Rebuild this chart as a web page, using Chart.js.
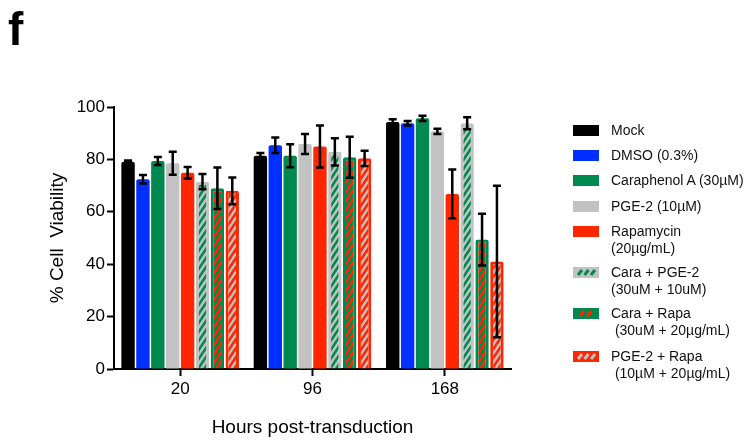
<!DOCTYPE html>
<html>
<head>
<meta charset="utf-8">
<script src="https://cdn.jsdelivr.net/npm/chart.js@4.4.0/dist/chart.umd.min.js"></script>
<style>
  body { margin: 0; background: #fff; font-family: 'Liberation Sans', Arial, sans-serif; }
  #wrap { position: relative; width: 747px; height: 440px; }
  #panel { position: absolute; left: 8px; top: 3px; font-size: 46px; font-weight: bold; color: #000; line-height: 52px; }
  #legend { position: absolute; left: 573px; top: 0; font-size: 14px; color: #111; }
  .leg { position: absolute; left: 0; white-space: pre; line-height: 17px; }
  .leg canvas { position: absolute; left: 0; top: 3px; }
  .leg span { position: absolute; left: 38px; top: 0px; }
</style>
</head>
<body>
<div id="wrap">
  <canvas id="chart" width="747" height="440"></canvas>
  <div id="panel">f</div>
  <div id="legend"></div>
</div>
<script>
// Datos
const categories = ['20', '96', '168'];
const seriesNames = ['Mock', 'DMSO (0.3%)', 'Caraphenol A (30µM)', 'PGE-2 (10µM)', 'Rapamycin\n(20µg/mL)',
                     'Cara + PGE-2\n(30uM + 10uM)', 'Cara + Rapa\n (30uM + 20µg/mL)', 'PGE-2 + Rapa\n (10µM + 20µg/mL)'];
const mock      = [79.1, 81.4, 94.3];
const dmso      = [72.4, 85.4, 93.8];
const cara      = [79.4, 81.4, 95.7];
const pge2      = [78.5, 85.9, 90.7];
const rapa      = [74.9, 84.9, 66.8];
const caraPge   = [71.5, 82.9, 93.8];
const caraRapa  = [69.0, 80.8, 49.4];
const pgeRapa   = [68.0, 80.4, 41.0];
const mockErr     = [0.5, 1.0, 1.0];
const dmsoErr     = [1.6, 3.0, 0.9];
const caraErr     = [1.5, 4.4, 1.0];
const pge2Err     = [4.4, 3.8, 1.0];
const rapaErr     = [2.2, 8.0, 9.3];
const caraPgeErr  = [2.9, 5.2, 2.3];
const caraRapaErr = [7.9, 7.8, 9.9];
const pgeRapaErr  = [5.1, 2.9, 28.9];
const yTicks = [0, 20, 40, 60, 80, 100];

const BLACK = '#000000', BLUE = '#0030ff', GREEN = '#00894f', GRAY = '#c2c2c2', RED = '#ff2600';

// rayado diagonal "/" (tile 6x9)
function stripes(bg, fg) {
  const c = document.createElement('canvas');
  c.width = 6; c.height = 9;
  const g = c.getContext('2d');
  g.fillStyle = bg; g.fillRect(0, 0, 6, 9);
  g.strokeStyle = fg; g.lineWidth = 2.6;
  g.beginPath();
  for (const [dx, dy] of [[0, 0], [-6, 0], [6, 0], [0, -9], [0, 9]]) {
    g.moveTo(0 + dx, 9 + dy); g.lineTo(6 + dx, 0 + dy);
  }
  g.stroke();
  return document.createElement('canvas').getContext('2d').createPattern(c, 'repeat');
}

const styles = [
  { fill: BLACK, border: BLACK },
  { fill: BLUE, border: BLUE },
  { fill: GREEN, border: GREEN },
  { fill: GRAY, border: GRAY },
  { fill: RED, border: RED },
  { fill: stripes(GRAY, GREEN), border: GRAY, pat: [GRAY, GREEN, 3] },
  { fill: stripes(GREEN, RED), border: GREEN, pat: [GREEN, RED, 2] },
  { fill: stripes(GRAY, RED), border: RED, pat: [RED, GRAY, 3] },
];
const values = [mock, dmso, cara, pge2, rapa, caraPge, caraRapa, pgeRapa];
const errors = [mockErr, dmsoErr, caraErr, pge2Err, rapaErr, caraPgeErr, caraRapaErr, pgeRapaErr];

const errorBars = {
  id: 'errorBars',
  afterDatasetsDraw(chart) {
    const { ctx, scales: { y } } = chart;
    ctx.save();
    ctx.strokeStyle = '#000';
    ctx.lineWidth = 2.5;
    chart.data.datasets.forEach((ds, i) => {
      chart.getDatasetMeta(i).data.forEach((bar, j) => {
        const m = ds.data[j], e = ds.err[j];
        const hi = y.getPixelForValue(m + e), lo = y.getPixelForValue(m - e);
        ctx.beginPath();
        ctx.moveTo(bar.x, hi); ctx.lineTo(bar.x, lo);
        ctx.moveTo(bar.x - 4, hi); ctx.lineTo(bar.x + 4, hi);
        ctx.moveTo(bar.x - 4, lo); ctx.lineTo(bar.x + 4, lo);
        ctx.stroke();
      });
    });
    ctx.restore();
  }
};

const font = 'Liberation Sans, Arial, sans-serif';
new Chart(document.getElementById('chart'), {
  type: 'bar',
  data: {
    labels: categories,
    datasets: values.map((v, i) => ({
      label: seriesNames[i],
      data: v,
      err: errors[i],
      backgroundColor: styles[i].fill,
      borderColor: styles[i].border,
      borderWidth: styles[i].pat ? 3 : 0,
      borderRadius: { topLeft: 2, topRight: 2 },
      borderSkipped: 'bottom',
      categoryPercentage: 0.9,
      barPercentage: 0.9,
    }))
  },
  options: {
    responsive: false,
    animation: false,
    layout: { padding: { top: 107, right: 236, left: 0, bottom: 0 } },
    plugins: { legend: { display: false }, tooltip: { enabled: false } },
    scales: {
      x: {
        grid: { display: true, drawOnChartArea: false, offset: false, tickLength: 7, tickWidth: 2, tickColor: '#000' },
        border: { color: '#000', width: 2 },
        ticks: { color: '#000', font: { family: font, size: 17 }, padding: 3 },
        title: { display: true, text: 'Hours post-transduction', color: '#000', font: { family: font, size: 19 }, padding: { top: 0, bottom: 1 } },
        afterFit: s => { s.height = 71; }
      },
      y: {
        min: 0, max: 100,
        afterBuildTicks: s => { s.ticks = yTicks.map(v => ({ value: v })); },
        grid: { display: true, drawOnChartArea: false, tickLength: 7, tickWidth: 2, tickColor: '#000' },
        border: { color: '#000', width: 2 },
        ticks: { color: '#000', font: { family: font, size: 17 }, padding: 2 },
        title: { display: true, text: '% Cell  Viability', color: '#000', font: { family: font, size: 19 }, padding: { top: 46, bottom: 0 } },
        afterFit: s => { s.width = 114; }
      }
    }
  },
  plugins: [errorBars]
});

// Leyenda
const legendTops = [131, 156, 181, 207, 232, 273, 314, 357];
const legendEl = document.getElementById('legend');
seriesNames.forEach((name, i) => {
  const row = document.createElement('div');
  row.className = 'leg';
  row.style.top = (legendTops[i] - 9) + 'px';
  const sw = document.createElement('canvas');
  sw.width = 26; sw.height = 11;
  const g = sw.getContext('2d');
  const st = styles[i];
  if (st.pat) {
    g.fillStyle = st.pat[0]; g.fillRect(0, 0, 26, 11);
    g.strokeStyle = st.pat[1]; g.lineWidth = 3;
    g.beginPath();
    const n = st.pat[2], step = n === 3 ? 6.5 : 7.5, x0 = n === 3 ? 5 : 7;
    for (let k = 0; k < n; k++) { const x = x0 + k * step; g.moveTo(x, 8); g.lineTo(x + 4, 3); }
    g.stroke();
  } else {
    g.fillStyle = st.fill; g.fillRect(0, 0, 26, 11);
  }
  const tx = document.createElement('span');
  tx.textContent = name;
  row.appendChild(sw);
  row.appendChild(tx);
  legendEl.appendChild(row);
});
</script>
</body>
</html>
